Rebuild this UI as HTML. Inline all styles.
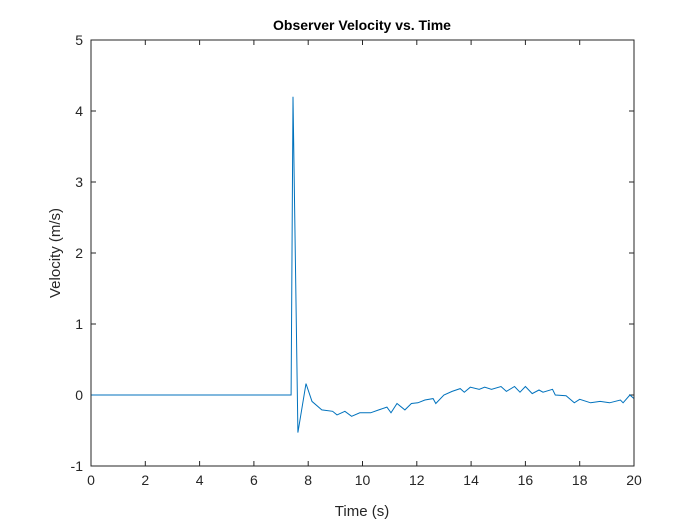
<!DOCTYPE html>
<html><head><meta charset="utf-8"><style>
body{margin:0;background:#fff;}
svg{display:block;font-family:"Liberation Sans",Arial,sans-serif;}
</style></head><body>
<svg width="700" height="525" id="c">
<rect width="700" height="525" fill="#fff"/>
<text x="362" y="30" text-anchor="middle" font-size="14" font-weight="bold" fill="#000">Observer Velocity vs. Time</text>
<text x="362" y="516" text-anchor="middle" font-size="15" fill="#262626">Time (s)</text>
<text transform="translate(60,253) rotate(-90)" text-anchor="middle" font-size="15" fill="#262626">Velocity (m/s)</text>
<g id="axes"></g>
<path id="line" fill="none" stroke="#0072BD" stroke-width="1"/>
<rect x="91" y="40" width="543" height="426" fill="none" stroke="#262626" stroke-width="1"/>
</svg>
<script>
const times=[0,7.37,7.44,7.62,7.92,8.14,8.5,8.9,9.06,9.35,9.6,9.9,10.3,10.6,10.9,11.05,11.27,11.56,11.8,12.04,12.3,12.6,12.7,13,13.3,13.6,13.75,13.97,14.3,14.5,14.75,15.1,15.3,15.6,15.8,16,16.25,16.5,16.65,17,17.1,17.5,17.8,18,18.4,18.75,19.1,19.5,19.6,19.85,20];
const velocities=[0,0,4.2,-0.53,0.16,-0.09,-0.21,-0.23,-0.28,-0.23,-0.3,-0.25,-0.25,-0.21,-0.17,-0.25,-0.12,-0.21,-0.12,-0.11,-0.07,-0.05,-0.12,0,0.05,0.09,0.04,0.11,0.08,0.11,0.08,0.12,0.05,0.12,0.04,0.12,0.02,0.07,0.04,0.08,0,-0.01,-0.11,-0.06,-0.11,-0.09,-0.11,-0.07,-0.11,0,-0.05];
const xTicks=[0,2,4,6,8,10,12,14,16,18,20];
const yTicks=[-1,0,1,2,3,4,5];
const X0=91,X1=634,Y0=466,Y1=40;
const xs=v=>X0+(v-0)/20*(X1-X0);
const ys=v=>Y0-(v+1)/6*(Y0-Y1);
const ns="http://www.w3.org/2000/svg";
const ax=document.getElementById('axes');
function mk(t,a){const e=document.createElementNS(ns,t);for(const k in a)e.setAttribute(k,a[k]);return e;}
xTicks.forEach(v=>{
 const x=xs(v);
 ax.appendChild(mk('line',{x1:x,x2:x,y1:Y0,y2:Y0-5,stroke:'#262626'}));
 ax.appendChild(mk('line',{x1:x,x2:x,y1:Y1,y2:Y1+5,stroke:'#262626'}));
 const t=mk('text',{x:x,y:Y0+19,'text-anchor':'middle','font-size':14,fill:'#262626'});
 
 
 t.textContent=v;ax.appendChild(t);
});
yTicks.forEach(v=>{
 const y=ys(v);
 ax.appendChild(mk('line',{x1:X0,x2:X0+5,y1:y,y2:y,stroke:'#262626'}));
 ax.appendChild(mk('line',{x1:X1,x2:X1-5,y1:y,y2:y,stroke:'#262626'}));
 const t=mk('text',{x:X0-8,y:y+5,'text-anchor':'end','font-size':14,fill:'#262626'});
 
 
 t.textContent=v;ax.appendChild(t);
});
document.getElementById('line').setAttribute('d',times.map((t,i)=>(i?'L':'M')+xs(t).toFixed(1)+','+ys(velocities[i]).toFixed(1)).join(''));
</script>
</body></html>
